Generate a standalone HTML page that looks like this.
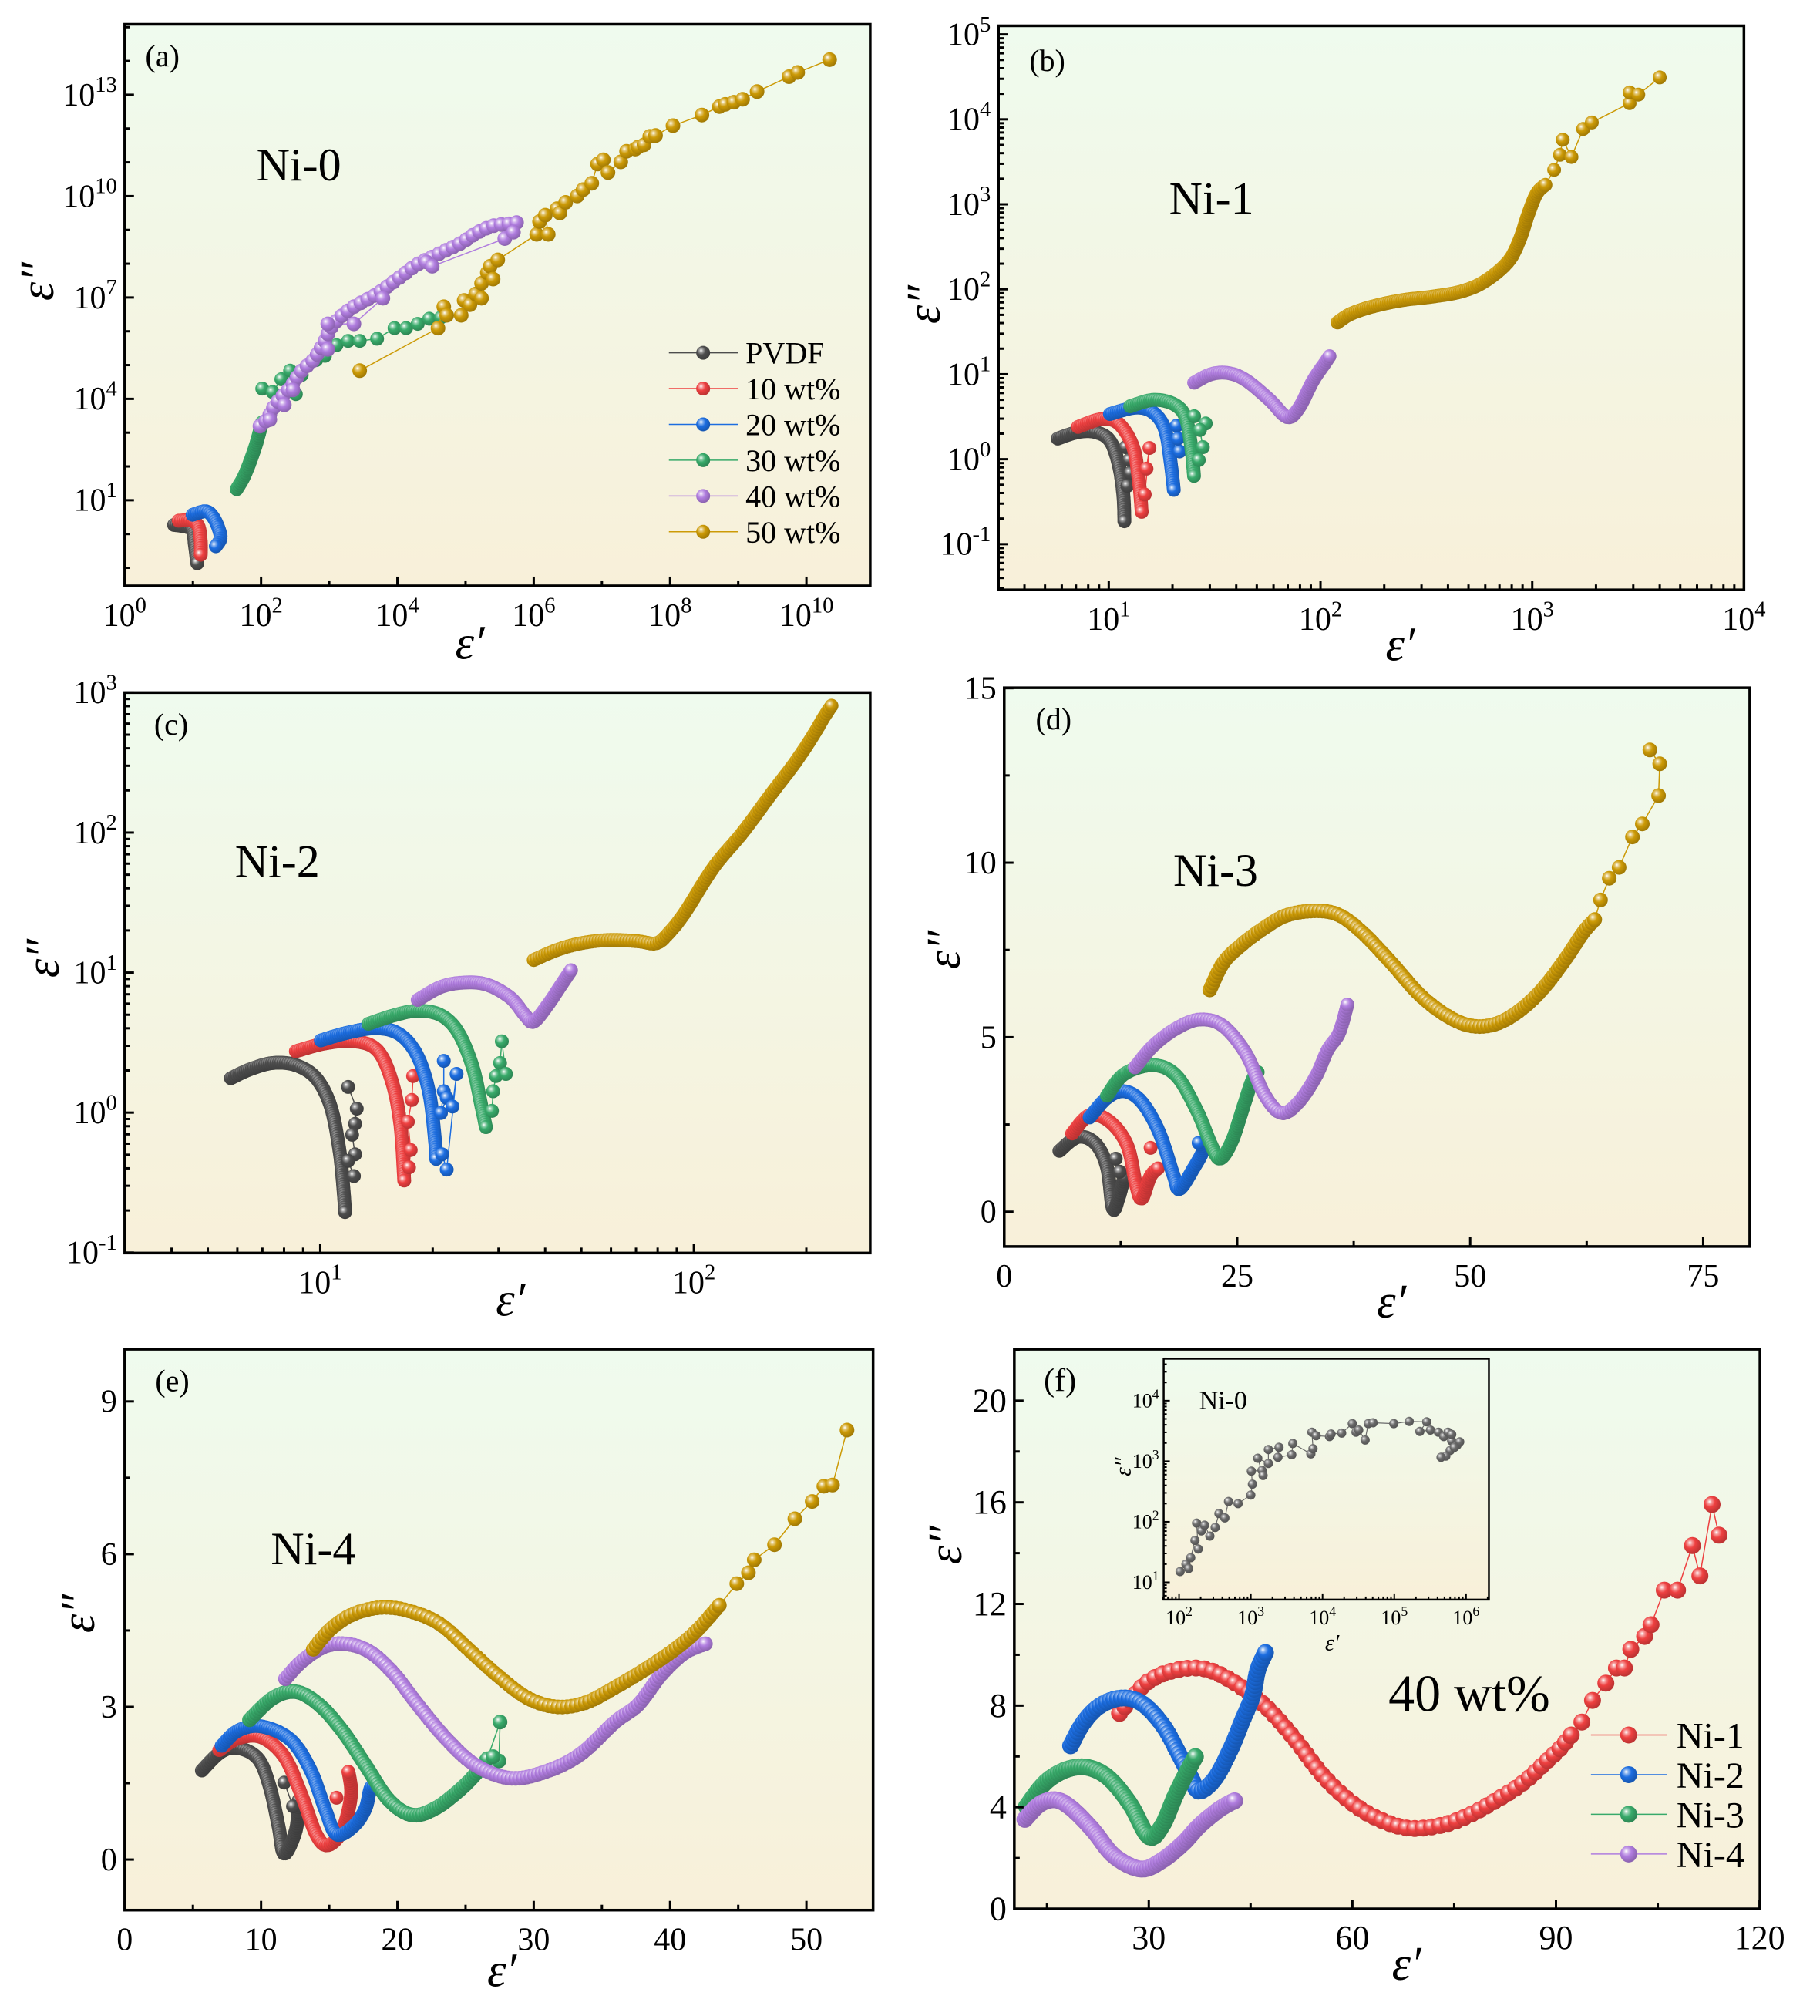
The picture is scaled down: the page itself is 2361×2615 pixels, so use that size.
<!DOCTYPE html>
<html><head><meta charset="utf-8"><style>body{margin:0;background:#fff}svg{display:block}</style></head>
<body>
<svg id="s" xmlns="http://www.w3.org/2000/svg" width="2361" height="2615" viewBox="0 0 2361 2615">
<rect width="2361" height="2615" fill="#ffffff"/>
<defs>
<linearGradient id="bg" x1="0" y1="0" x2="0" y2="1"><stop offset="0" stop-color="#effbee"/><stop offset="1" stop-color="#f8f0d9"/></linearGradient>
</defs>
</svg>
<script>
const NS='http://www.w3.org/2000/svg',svg=document.getElementById('s');
const FF='"Liberation Serif", "DejaVu Serif", serif';
function el(t,a,p){const e=document.createElementNS(NS,t);for(const k in a)e.setAttribute(k,a[k]);(p||svg).appendChild(e);return e;}
const COL={k:'#4d4d4d',r:'#ee4040',b:'#1c6de0',g:'#38aa6a',p:'#b07ddf',y:'#cc9a06',i:'#6a6a6a'};
const defs=svg.querySelector('defs');
function mix(h,t,f){const a=parseInt(h.slice(1),16),b=parseInt(t.slice(1),16);const c=[16,8,0].map(s=>Math.round(((a>>s)&255)*(1-f)+((b>>s)&255)*f));return'rgb('+c.join(',')+')';}
for(const k in COL){const g=el('radialGradient',{id:'g'+k,cx:'0.38',cy:'0.36',r:'0.62',fx:'0.35',fy:'0.33'},defs);
el('stop',{offset:'0','stop-color':'#ffffff'},g);el('stop',{offset:'0.22','stop-color':mix(COL[k],'#ffffff',0.45)},g);
el('stop',{offset:'0.5','stop-color':COL[k]},g);el('stop',{offset:'1','stop-color':mix(COL[k],'#000000',0.2)},g);}
const Z={a:{x0:0,y0:0,sx:0.7526,sy:0.5527},b:{x0:1180,y0:0,sx:0.7532,sy:0.5577},c:{x0:0,y0:860,sx:0.7526,sy:0.564},
d:{x0:1180,y0:860,sx:0.7532,sy:0.564},e:{x0:0,y0:1740,sx:0.7526,sy:0.561},f:{x0:1280,y0:1740,sx:0.6894,sy:0.561}};
function T(z,x,y){return[z.x0+x*z.sx,z.y0+y*z.sy];}
function txt(x,y,s,size,anchor,extra){const a={x:x,y:y,'font-size':size,'text-anchor':anchor||'middle','font-family':FF,fill:'#000'};if(extra)for(const k in extra)a[k]=extra[k];const t=el('text',a);t.textContent=s;return t;}
function sup(x,y,base,exp,size,anchor){const t=el('text',{x:x,y:y,'font-size':size,'text-anchor':anchor,'font-family':FF,fill:'#000'});t.appendChild(document.createTextNode(base));if(exp!==undefined&&exp!==null){const s=el('tspan',{'font-size':size*0.68,dy:-size*0.42},t);s.textContent=exp;}return t;}
function line(x1,y1,x2,y2,w,c){el('line',{x1:x1,y1:y1,x2:x2,y2:y2,stroke:c||'#000','stroke-width':w});}
function bgRect(z,fr){const[a,b]=T(z,fr[0],fr[1]),[c,d]=T(z,fr[2],fr[3]);el('rect',{x:a,y:b,width:c-a,height:d-b,fill:'url(#bg)'});return{x1:a,y1:b,x2:c,y2:d};}
function frame(F,w){el('rect',{x:F.x1,y:F.y1,width:F.x2-F.x1,height:F.y2-F.y1,fill:'none',stroke:'#000','stroke-width':w});}
function axes(z,F,xt,yt,o){
 const ml=o.ml||12,mn=o.mn||7,fs=o.fs||42,lw=o.lw||3;
 for(const t of xt){const x=z.x0+t[0]*z.sx;if(x<F.x1-1||x>F.x2+1)continue;line(x,F.y2,x,F.y2-(t[1]?ml:mn),lw);
  if(t[2]!==undefined&&t[2]!==null)sup(x,F.y2+(o.xoff||52),t[2],t[3],fs,'middle');}
 for(const t of yt){const y=z.y0+t[0]*z.sy;if(y<F.y1-1||y>F.y2+1)continue;line(F.x1,y,F.x1+(t[1]?ml:mn),y,lw);
  if(t[2]!==undefined&&t[2]!==null)sup(F.x1-(o.yoff||10),y+fs*0.33,t[2],t[3],fs,'end');}
}
function logT(pos,dlo,dhi,lab,minor){const r=[];for(let d=dlo;d<=dhi;d++){for(let m=1;m<=9;m++){if(m>1&&!minor)continue;const p=pos(d+Math.log10(m));r.push(m==1?[p,true,lab(d)?'10':null,lab(d)?String(d):null]:[p,false]);}}return r;}
function linT(pos,lo,hi,step,mstep){const r=[];for(let v=lo;v<=hi+1e-9;v+=mstep){const maj=Math.abs(v/step-Math.round(v/step))<1e-6;r.push([pos(v),maj,maj?String(Math.round(v)):null]);}return r;}
function spline(p){if(p.length<3)return p.slice();const o=[];for(let i=0;i<p.length-1;i++){const p0=p[Math.max(0,i-1)],p1=p[i],p2=p[i+1],p3=p[Math.min(p.length-1,i+2)];
 for(let k=0;k<10;k++){const t=k/10,t2=t*t,t3=t2*t;o.push([0,1].map(j=>0.5*((2*p1[j])+(-p0[j]+p2[j])*t+(2*p0[j]-5*p1[j]+4*p2[j]-p3[j])*t2+(-p0[j]+3*p1[j]-3*p2[j]+p3[j])*t3)));}}o.push(p[p.length-1]);return o;}
function dense(pts,step){const out=[];if(step<=0)return pts.slice();out.push(pts[0]);let carry=0;
 for(let i=1;i<pts.length;i++){const[x0,y0]=pts[i-1],[x1,y1]=pts[i];const L=Math.hypot(x1-x0,y1-y0);let d=step-carry;while(d<=L){out.push([x0+(x1-x0)*d/L,y0+(y1-y0)*d/L]);d+=step;}carry=L-(d-step);}return out;}
function series(z,c,r,parts,lw){
 const P=parts.map(([p,st])=>{let R=p.map(q=>T(z,q[0],q[1]));if(st>0)R=spline(R);return[R,st];});
 for(const[R,st]of P)el('polyline',{points:R.map(q=>q[0].toFixed(1)+','+q[1].toFixed(1)).join(' '),fill:'none',stroke:COL[c],'stroke-width':lw||1.5});
 for(const[R,st]of P){for(const q of dense(R,st))el('circle',{cx:q[0].toFixed(1),cy:q[1].toFixed(1),r:r,fill:'url(#g'+c+')'});}
}
function lbl(z,x,y,s,size,extra){const[a,b]=T(z,x,y);return txt(a,b+size*0.35,s,size,'middle',extra);}
function eps1(z,x,y,s){const[a,b]=T(z,x,y);txt(a,b+20,'ε′',s||62,'middle',{'font-style':'italic'});}
function eps2(x,y,s){txt(0,0,'ε″',s||62,'middle',{'font-style':'italic',transform:'translate('+x+','+y+') rotate(-90) translate(0,20)'});}

// ---------- (a)
let z=Z.a,F=bgRect(z,[215,57,1500,1375]);
let xt=[];for(let k=0;k<=11;k++)xt.push([215+117.5*k,k%2==0,k%2==0?'10':null,k%2==0?String(k):null]);
let yt=[];for(let k=-1;k<=15;k++){const p=1174-79.3*(k-1);const m=((k-1)%3+3)%3==0;yt.push([p,m,m?'10':null,m?String(k):null]);}
series(z,'k',9,[[[[300,1232],[320,1236],[332,1245],[336,1280],[340,1322]],3]]);
series(z,'r',9,[[[[308,1222],[330,1222],[342,1235],[346,1270],[346,1305]],3]]);
series(z,'b',9,[[[[332,1208],[355,1200],[368,1215],[378,1245],[380,1265],[372,1282]],3]]);
series(z,'g',9,[[[[408,1148],[420,1120],[432,1080],[442,1040],[450,1000],[452,990]],3],[[[452,912],[470,920],[485,890],[500,870],[510,925],[520,880],[545,845],[560,835],[580,810],[600,800],[620,800],[650,795],[680,770],[700,770],[720,760],[740,748],[760,745]],0]]);
series(z,'p',9.5,[[[[448,1000],[460,985],[470,960],[480,940],[500,910],[520,870],[540,845],[560,800],[570,770],[590,740],[610,720],[630,705],[650,690],[665,675],[690,650],[720,620],[750,600],[765,590],[795,570],[820,548],[850,530],[880,525],[900,520]],10],[[[465,985],[490,950],[505,915],[565,820],[565,760],[610,760],[660,700],[735,615],[745,625],[870,560],[885,545]],0]]);
series(z,'y',9.5,[[[[620,870],[755,770],[765,720],[770,740],[795,740],[800,705],[810,715],[820,690],[830,665],[840,640],[830,700],[845,625],[850,655],[858,610],[925,550],[930,520],[945,550],[940,505],[960,490],[965,500],[975,475],[995,460],[1005,445],[1020,430],[1030,385],[1040,375],[1048,405],[1070,380],[1080,355],[1095,350],[1100,345],[1110,340],[1120,320],[1130,318],[1160,295],[1210,270],[1240,250],[1250,245],[1265,240],[1280,233],[1305,215],[1360,180],[1375,170],[1430,140]],0]]);
['k','r','b','g','p','y'].forEach((c,i)=>{const yy=828+84*i;const[x1,y1]=T(z,1153,yy),[x2]=T(z,1272,yy),[xm]=T(z,1212,yy),[xt2]=T(z,1285,yy);
 line(x1,y1,x2,y1,1.5,COL[c]);el('circle',{cx:xm,cy:y1,r:9,fill:'url(#g'+c+')'});txt(xt2,y1+14,['PVDF','10 wt%','20 wt%','30 wt%','40 wt%','50 wt%'][i],40,'start');});
axes(z,F,xt,yt,{});frame(F,3.5);
lbl(z,280,130,'(a)',40);lbl(z,515,385,'Ni-0',60);eps1(z,810,1510);eps2(49,365);

// ---------- (b)
z=Z.b;F=bgRect(z,[153,60,1437,1372]);
xt=logT(l=>343+364.7*(l-1),0,4,d=>d>=1,true);yt=logT(l=>1068-197.6*l,-2,5,d=>d>=-1,true);
series(z,'k',9,[[[[255,1020],[290,1005],[320,1005],[345,1025],[360,1080],[368,1150],[370,1215]],3],[[[372,1040],[378,1070],[380,1100],[375,1130]],0]]);
series(z,'r',9,[[[[290,993],[330,975],[360,985],[385,1040],[395,1120],[400,1195]],3],[[[408,1090],[413,1042],[405,1150]],0]]);
series(z,'b',9,[[[[345,963],[390,948],[420,960],[440,1000],[450,1080],[455,1140]],3],[[[460,990],[465,1050],[462,1020]],0]]);
series(z,'g',9,[[[[380,945],[420,930],[455,940],[475,970],[485,1040],[490,1110]],3],[[[490,968],[510,985],[500,1000],[505,1040],[498,1070]],0]]);
series(z,'p',9,[[[[490,890],[520,870],[550,868],[580,885],[620,930],[650,970],[670,950],[695,885],[715,845],[725,825]],3]]);
series(z,'y',9,[[[[737,750],[760,730],[800,712],[850,698],[900,690],[950,678],[990,655],[1030,610],[1050,560],[1065,500],[1080,450],[1095,430]],3],[[[1095,430],[1110,395],[1120,360],[1125,325],[1140,365],[1160,300],[1175,285],[1240,240],[1240,215],[1255,220],[1292,180]],0]]);
axes(z,F,xt,yt,{});frame(F,3.5);
lbl(z,237,140,'(b)',40);lbl(z,520,460,'Ni-1',60);eps1(z,845,1500);eps2(1199,395);

// ---------- (c)
z=Z.c;F=bgRect(z,[215,68,1500,1357]);
xt=logT(l=>552+644*(l-1),0,2,d=>d>=1,true);yt=logT(l=>1034-322*l,-1,3,d=>true,true);
series(z,'k',9,[[[[398,955],[430,935],[470,920],[510,925],[545,955],[570,1020],[585,1120],[592,1210],[595,1268]],3],[[[600,975],[615,1025],[612,1060],[607,1085],[612,1130],[600,1145],[610,1180]],0]]);
series(z,'r',9,[[[[510,893],[560,875],[610,870],[650,890],[675,960],[690,1060],[697,1195]],3],[[[712,950],[710,1005],[703,1055],[708,1120],[705,1160]],0]]);
series(z,'b',9,[[[[553,868],[600,850],[650,840],[690,855],[720,905],[740,990],[750,1100],[752,1145]],3],[[[765,915],[765,985],[760,1035],[770,1000],[780,1020],[787,945],[770,1165],[762,1130]],0]]);
series(z,'g',9,[[[[635,830],[680,810],[720,800],[760,810],[790,850],[815,930],[830,1020],[838,1070]],3],[[[848,1030],[850,985],[855,950],[862,920],[865,870],[872,945]],0]]);
series(z,'p',9,[[[[720,775],[760,745],[800,735],[840,740],[880,770],[905,810],[920,825],[945,785],[965,745],[985,705]],3]]);
series(z,'y',9,[[[[920,683],[960,660],[1000,645],[1050,637],[1100,640],[1130,645],[1150,625],[1180,575],[1230,470],[1280,390],[1330,300],[1370,230],[1400,170],[1420,125],[1435,95]],4]]);
axes(z,F,xt,yt,{});frame(F,3.5);
lbl(z,295,140,'(c)',40);lbl(z,478,455,'Ni-2',60);eps1(z,880,1465);eps2(56,1243);

// ---------- (d)
z=Z.d;F=bgRect(z,[163,57,1447,1342]);
xt=linT(v=>163+16.05*v,0,75,25,12.5);yt=linT(v=>1262-80.27*v,-0,15,5,2.5);
series(z,'k',9,[[[[258,1122],[290,1090],[320,1105],[340,1160],[350,1255],[360,1230],[370,1180]],3],[[[355,1140],[362,1170]],0]]);
series(z,'r',9,[[[[280,1082],[310,1040],[345,1055],[375,1110],[390,1200],[400,1232],[415,1180],[430,1160]],3],[[[415,1115]],0]]);
series(z,'b',9,[[[[310,1045],[340,1000],[370,985],[400,1010],[430,1080],[455,1180],[465,1210],[490,1160],[505,1120],[495,1100]],3]]);
series(z,'g',9,[[[[340,995],[370,945],[420,925],[460,950],[495,1030],[520,1110],[535,1140],[555,1100],[575,1020],[590,960],[600,940]],3]]);
series(z,'p',9,[[[[388,930],[420,880],[460,840],[500,820],[540,835],[580,900],[610,990],[640,1035],[670,1010],[700,950],[720,890],[740,850],[755,780]],4]]);
series(z,'y',9.5,[[[[517,752],[540,690],[570,650],[610,610],[650,580],[700,570],[740,580],[780,620],[830,690],[880,765],[930,815],[970,835],[1010,830],[1050,800],[1090,750],[1130,680],[1160,620],[1180,590]],5],[[[1180,590],[1190,545],[1205,495],[1222,470],[1245,400],[1262,370],[1290,305],[1292,232],[1275,200]],0]]);
axes(z,F,xt,yt,{});frame(F,3.5);
lbl(z,248,128,'(d)',40);lbl(z,527,475,'Ni-3',60);eps1(z,830,1470);eps2(1225,1232);

// ---------- (e)
z=Z.e;F=bgRect(z,[215,18,1505,1315]);
xt=linT(v=>215+23.5*v,0,55,10,5);yt=linT(v=>1198-117.7*v,-0,9,3,1.5);
series(z,'k',9,[[[[348,992],[380,950],[410,940],[445,965],[465,1030],[480,1120],[490,1185],[510,1130],[515,1060]],3],[[[490,1020],[505,1075]],0]]);
series(z,'r',9,[[[[378,945],[410,918],[450,915],[490,960],[520,1050],[545,1140],[565,1165],[590,1130],[605,1050],[600,990]],3],[[[580,1055]],0]]);
series(z,'b',9,[[[[382,935],[410,900],[450,890],[500,920],[535,990],[560,1080],[580,1140],[610,1120],[630,1080],[640,1030],[655,1035]],3]]);
series(z,'g',9.5,[[[[430,875],[470,825],[510,810],[550,840],[590,900],[630,980],[670,1060],[710,1095],[750,1080],[790,1040],[820,1000],[840,965]],4],[[[840,965],[862,880],[860,970],[850,960]],0]]);
series(z,'p',9.5,[[[[492,780],[520,740],[560,705],[600,700],[640,720],[680,770],[720,840],[770,920],[820,980],[880,1010],[940,995],[1000,955],[1060,880],[1100,840],[1140,770],[1180,720],[1218,698]],5]]);
series(z,'y',9.5,[[[[540,712],[570,665],[610,630],[660,615],[710,625],[760,655],[810,715],[860,775],[910,825],[960,845],[1010,835],[1060,800],[1110,760],[1160,715],[1200,670],[1240,610]],6],[[[1240,610],[1270,560],[1290,535],[1300,505],[1335,470],[1370,410],[1400,370],[1420,335],[1435,332],[1460,205]],0]]);
axes(z,F,xt,yt,{});frame(F,3.5);
lbl(z,297,90,'(e)',40);lbl(z,540,478,'Ni-4',60);eps1(z,865,1455);eps2(102,2093);

// ---------- (f)
z=Z.f;F=bgRect(z,[52,18,1455,1312]);
xt=linT(v=>305+12.77*(v-30),15,120,30,15);yt=linT(v=>1312-58.75*v,0,22,4,2);
series(z,'r',11,[[[[250,860],[270,830],[300,790],[340,765],[390,755],[430,765],[480,800],[530,850],[580,920],[630,1000],[680,1060],[730,1100],[790,1125],[850,1120],[900,1100],[960,1060],[1010,1020],[1050,975],[1080,940],[1100,910]],11],[[[1100,910],[1120,880],[1140,830],[1165,790],[1185,755],[1200,755],[1212,712],[1238,682],[1250,655],[1275,575],[1300,575],[1328,472],[1342,542],[1365,377],[1378,448]],0]]);
series(z,'b',11,[[[[158,935],[180,885],[210,845],[250,825],[290,835],[330,885],[360,950],[385,1010],[400,1040],[430,1010],[460,940],[480,880],[500,820],[510,760],[525,718]],5]]);
series(z,'g',11,[[[[75,1075],[110,1020],[150,990],[190,985],[230,1010],[270,1070],[305,1145],[330,1120],[355,1050],[375,1000],[395,955]],4]]);
series(z,'p',11,[[[[72,1105],[100,1070],[130,1060],[160,1080],[200,1130],[240,1190],[290,1220],[330,1200],[370,1160],[400,1120],[440,1080],[470,1060]],4]]);
['r','b','g','p'].forEach((c,i)=>{const yy=910+91.7*i;const[x1,y1]=T(z,1137,yy),[x2]=T(z,1280,yy),[xm]=T(z,1208,yy),[xt2]=T(z,1298,yy);
 line(x1,y1,x2,y1,1.5,COL[c]);el('circle',{cx:xm,cy:y1,r:11,fill:'url(#g'+c+')'});txt(xt2,y1+17,'Ni-'+(i+1),48,'start');});
axes(z,F,xt,yt,{fs:44});frame(F,3.5);
lbl(z,138,88,'(f)',42);lbl(z,908,812,'40 wt%',68);eps1(z,790,1440);eps2(1227,2004);
let Fi=bgRect(z,[333,40,945,597]);
let xi=logT(l=>362+135*(l-2),1,6,d=>d>=2,true),yi=logT(l=>557-140*(l-1),0,4,d=>d>=1,true);
series(z,'i',6,[[[[364,532],[375,515],[380,525],[384,500],[392,460],[398,480],[395,420],[404,438],[410,425],[420,450],[430,430],[437,398],[448,408],[455,370],[473,375],[497,355],[500,330],[498,300],[518,298],[520,310],[510,270],[530,282],[530,250],[550,245],[548,268],[574,262],[576,236],[610,260],[614,248],[612,210],[620,218],[645,220],[648,214],[668,212],[688,190],[695,210],[700,205],[712,228],[718,190],[727,188],[766,190],[795,185],[828,186],[815,208],[835,205],[850,210],[860,220],[868,210],[875,230],[885,240],[890,232],[872,252],[864,265],[855,268],[880,245],[875,215]],0]],1.2);
axes(z,Fi,xi,yi,{fs:26,ml:8,mn:4,lw:2,xoff:32,yoff:6});frame(Fi,2.5);
lbl(z,445,135,'Ni-0',34);eps1(z,650,678,30);
{const[a,b]=T(z,230,290);eps2(a+8,b,30);}
</script>
</body></html>
